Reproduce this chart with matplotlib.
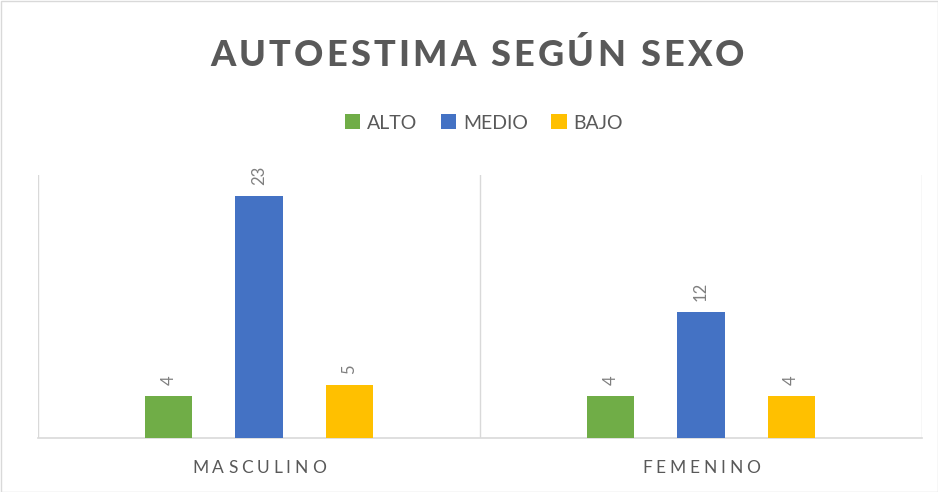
import matplotlib
matplotlib.use("Agg")
import matplotlib.pyplot as plt
from matplotlib.font_manager import FontProperties
from matplotlib.patches import Rectangle
import numpy as np

categories = ["MASCULINO", "FEMENINO"]
series_names = ["ALTO", "MEDIO", "BAJO"]
alto = [4, 4]
medio = [23, 12]
bajo = [5, 4]
title = "AUTOESTIMA SEGÚN SEXO"

colors = ["#70AD47", "#4472C4", "#FFC000"]
FONT = "Lato"
W, H = 938, 492
fig = plt.figure(figsize=(W / 100, H / 100), dpi=100)
ax = fig.add_axes([38 / W, (H - 438) / H, (922 - 38) / W, (438 - 175) / H])

x = np.arange(len(categories))
offset = 0.204
width = 0.107
for i, (vals, name, c) in enumerate(zip([alto, medio, bajo], series_names, colors)):
    bars = ax.bar(x + (i - 1) * offset, vals, width, color=c, label=name, zorder=3)
    for b, v in zip(bars, vals):
        ax.annotate(str(v), (b.get_x() + b.get_width() / 2, b.get_height()),
                    xytext=(0, 8), textcoords="offset points", rotation=90,
                    ha="center", va="bottom", fontsize=12, color="#7F7F7F",
                    family=FONT)

ax.set_xlim(-0.5, len(categories) - 0.5)
ax.set_ylim(0, 25)
ax.set_yticks([])
ax.set_xticks([])
for s in ["top", "right", "left"]:
    ax.spines[s].set_visible(False)
ax.spines["bottom"].set_color("#D9D9D9")
ax.spines["bottom"].set_linewidth(1.2)
for xv in np.arange(-0.5, len(categories), 1.0):
    ax.axvline(xv, color="#D9D9D9", lw=1.0, zorder=1)

fig.canvas.draw()
renderer = fig.canvas.get_renderer()


def spaced_text(cx, cy, s, size, weight, color, tracking):
    prop = FontProperties(family=FONT, size=size, weight=weight)
    widths = []
    for ch in s:
        w, h, d = renderer.get_text_width_height_descent(ch, prop, ismath=False)
        widths.append(w)
    total = sum(widths) + tracking * (len(s) - 1)
    xpos = cx - total / 2
    for ch, w in zip(s, widths):
        fig.text(xpos / W, 1 - cy / H, ch, fontproperties=prop, color=color,
                 ha="left", va="center")
        xpos += w + tracking


spaced_text(W / 2 + 8, 55, title, 26, "black", "#595959", 3.2)
centers_px = [38 + (k + 0.5) * (922 - 38) / len(categories) for k in range(len(categories))]
for cpx, lab in zip(centers_px, categories):
    spaced_text(cpx, 468, lab, 12.5, "normal", "#595959", 3.8)

leg = fig.legend(loc="center", bbox_to_anchor=(484 / W, 1 - 123 / H), ncol=3,
                 frameon=False, prop=FontProperties(family=FONT, size=14),
                 handlelength=0.8, handleheight=0.8, handletextpad=0.35,
                 columnspacing=1.2)
for t in leg.get_texts():
    t.set_color("#595959")

fig.patches.append(Rectangle((0.5 / W, 0.5 / H), 1 - 1 / W, 1 - 1 / H,
                             transform=fig.transFigure, fill=False,
                             edgecolor="#D9D9D9", lw=1.0))
fig.savefig("out.png", dpi=100)
